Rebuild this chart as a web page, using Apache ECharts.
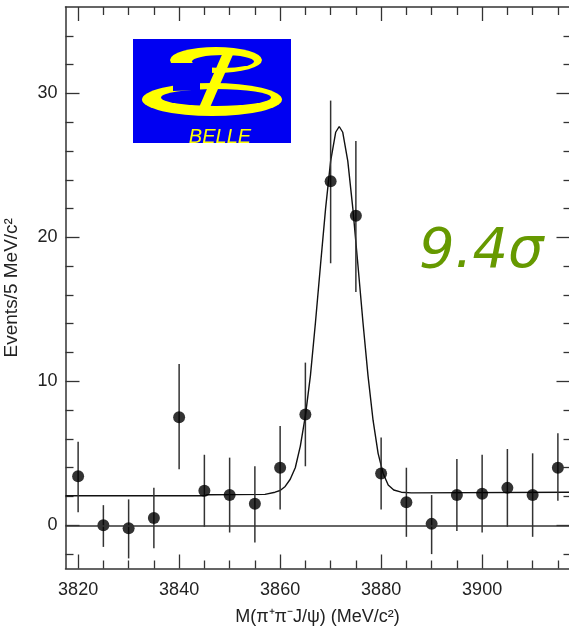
<!DOCTYPE html>
<html>
<head>
    <meta charset="utf-8">
    <title></title>
    <script src="https://cdn.jsdelivr.net/npm/echarts@6.0.0/dist/echarts.min.js"></script>
    <style>
        html, body { margin: 0; padding: 0; background: #fff; }
    </style>
</head>
<body>
    <div id="main" style="width: 569px;height:639px;"></div>
    <script type="text/javascript">
var myChart = echarts.init(document.getElementById('main'));

// bins (MeV/c^2) and events per bin
var masses = [3820, 3825, 3830, 3835, 3840, 3845, 3850, 3855, 3860, 3865,
              3870, 3875, 3880, 3885, 3890, 3895, 3900, 3905, 3910, 3915];
var events = [3.4, 0.0, -0.2, 0.5, 7.5, 2.4, 2.1, 1.5, 4.0, 7.7,
              23.9, 21.5, 3.6, 1.6, 0.1, 2.1, 2.2, 2.6, 2.1, 4.0];
var errTop = [5.8, 1.4, 1.8, 2.6, 11.2, 4.9, 4.7, 4.1, 6.9, 11.3,
              29.5, 26.7, 6.1, 4.0, 2.1, 4.6, 4.9, 5.3, 5.0, 6.4];
var errBottom = [0.9, -1.5, -2.3, -1.6, 3.9, -0.1, -0.5, -1.2, 1.1, 4.1,
                 18.2, 16.2, 1.1, -0.8, -2.0, -0.4, -0.5, -0.1, -0.8, 1.7];

// fit curve
var fitMass = [3817.5, 3845, 3845.5, 3857, 3859, 3860, 3861, 3862, 3863, 3864,
               3865, 3866, 3867, 3868, 3869, 3870, 3871, 3871.7, 3872.4, 3873.4,
               3874.4, 3875.4, 3876.4, 3877.4, 3878.4, 3879.4, 3880.4, 3881.4, 3882.5, 3884,
               3886, 3917.3];
var fitValue = [2.05, 2.05, 2.12, 2.15, 2.3, 2.42, 2.7, 3.2, 4.0, 5.5,
                7.6, 10.4, 14.1, 18.1, 22.0, 25.3, 27.3, 27.7, 27.3, 25.3,
                22.0, 18.1, 14.1, 10.4, 7.3, 5.0, 3.6, 2.8, 2.45, 2.3,
                2.25, 2.3];

// ticks
var xMajor = [3820, 3840, 3860, 3880, 3900];
var xMinor = [3825, 3830, 3835, 3845, 3850, 3855, 3865, 3870, 3875, 3885, 3890, 3895, 3905, 3910, 3915];
var yMajor = [0, 10, 20, 30];
var yMinor = [-2, 2, 4, 6, 8, 12, 14, 16, 18, 22, 24, 26, 28, 32, 34];

var xMin = 3817.5, xMax = 3917.3, yMin = -3, yMax = 36;
var frame = '#333';
var font = 'Liberation Sans, Arial, sans-serif';

function plain(v) { return String(v); }

function xAx(pos, ticks, len, main) {
  return {
    type: 'value', position: pos, min: xMin, max: xMax,
    axisLine: { show: main, onZero: false, lineStyle: { color: frame, width: 1.5 } },
    axisTick: { show: true, inside: true, length: len, customValues: ticks, lineStyle: { color: frame, width: 1.3 } },
    axisLabel: { show: main && pos === 'bottom', customValues: xMajor, formatter: plain, margin: 13, color: '#222', fontSize: 18, fontFamily: font },
    splitLine: { show: false },
    name: main && pos === 'bottom' ? 'M(π⁺π⁻J/ψ) (MeV/c²)' : '',
    nameLocation: 'middle', nameGap: 40,
    nameTextStyle: { color: '#222', fontSize: 18, fontFamily: font }
  };
}
function yAx(pos, ticks, len, main) {
  return {
    type: 'value', position: pos, min: yMin, max: yMax,
    axisLine: { show: main, onZero: false, lineStyle: { color: frame, width: 1.5 } },
    axisTick: { show: true, inside: true, length: len, customValues: ticks, lineStyle: { color: frame, width: 1.3 } },
    axisLabel: { show: main && pos === 'left', customValues: yMajor, formatter: plain, margin: 8, color: '#222', fontSize: 18, fontFamily: font },
    splitLine: { show: false },
    name: main && pos === 'left' ? 'Events/5 MeV/c²' : '',
    nameLocation: 'middle', nameGap: 44, nameRotate: 90,
    nameTextStyle: { color: '#222', fontSize: 19, fontFamily: font }
  };
}

var barData = masses.map(function (m, i) { return [m, errBottom[i], errTop[i]]; });
var pointData = masses.map(function (m, i) { return [m, events[i]]; });
var fitData = fitMass.map(function (m, i) { return [m, fitValue[i]]; });

option = {
  backgroundColor: '#fff',
  animation: false,
  grid: { left: 65.5, top: 7, width: 504, height: 561.5, containLabel: false, outerBoundsMode: 'none' },
  xAxis: [
    xAx('bottom', xMajor, 14, true),
    xAx('bottom', xMinor, 8, false),
    xAx('top', xMajor, 14, true),
    xAx('top', xMinor, 8, false)
  ],
  yAxis: [
    yAx('left', yMajor, 14, true),
    yAx('left', yMinor, 8, false),
    yAx('right', yMajor, 13, true),
    yAx('right', yMinor, 6, false)
  ],
  graphic: [
    { type: 'rect', shape: { x: 133, y: 39, width: 158, height: 104 }, style: { fill: '#0000f2' } },
    // upper loop of the B
    { type: 'circle', x: 216, y: 60, scaleX: 46, scaleY: 13, shape: { cx: 0, cy: 0, r: 1 }, style: { fill: '#ffff00' } },
    { type: 'circle', x: 223, y: 61.5, scaleX: 31, scaleY: 6.5, shape: { cx: 0, cy: 0, r: 1 }, style: { fill: '#0000f2' } },
    { type: 'polygon', shape: { points: [[166, 63], [212, 63], [212, 76], [166, 76]] }, style: { fill: '#0000f2' } },
    // lower loop
    { type: 'circle', x: 212, y: 99.5, scaleX: 70, scaleY: 16.5, shape: { cx: 0, cy: 0, r: 1 }, style: { fill: '#ffff00' } },
    { type: 'circle', x: 216, y: 97.5, scaleX: 55, scaleY: 8.5, shape: { cx: 0, cy: 0, r: 1 }, style: { fill: '#0000f2' } },
    { type: 'polygon', shape: { points: [[173, 82], [200, 82], [200, 90], [173, 91]] }, style: { fill: '#0000f2' } },
    // diagonal stroke
    { type: 'polygon', shape: { points: [[224, 50], [235, 50], [208, 112], [197, 112]] }, style: { fill: '#ffff00' } },
    { type: 'text', x: 220, y: 137, style: { text: 'BELLE', fill: '#ffff00', font: 'italic 20px Liberation Sans, Arial, sans-serif', textAlign: 'center', textVerticalAlign: 'middle' } },
    // significance
    { type: 'text', x: 419, y: 224, style: { text: '9.4σ', fill: '#669900', font: 'italic 56px DejaVu Sans, sans-serif', textAlign: 'left', textVerticalAlign: 'top' } }
  ],
  series: [{
    type: 'line',
    data: fitData,
    showSymbol: false,
    lineStyle: { color: '#111', width: 1.4 },
    markLine: {
      silent: true, symbol: 'none', label: { show: false },
      lineStyle: { color: '#333', width: 1.5, type: 'solid' },
      data: [{ yAxis: 0 }]
    },
    z: 2
  }, {
    type: 'custom',
    data: barData,
    encode: { x: 0, y: [1, 2] },
    renderItem: function (params, api) {
      var p1 = api.coord([api.value(0), api.value(1)]);
      var p2 = api.coord([api.value(0), api.value(2)]);
      return { type: 'line', shape: { x1: p1[0], y1: p1[1], x2: p2[0], y2: p2[1] }, style: { stroke: '#333', lineWidth: 1.5 } };
    },
    z: 3
  }, {
    type: 'scatter',
    data: pointData,
    symbol: 'circle',
    symbolSize: 12,
    itemStyle: { color: '#000' },
    z: 4
  }]
};
myChart.setOption(option);
    </script>
</body>
</html>
